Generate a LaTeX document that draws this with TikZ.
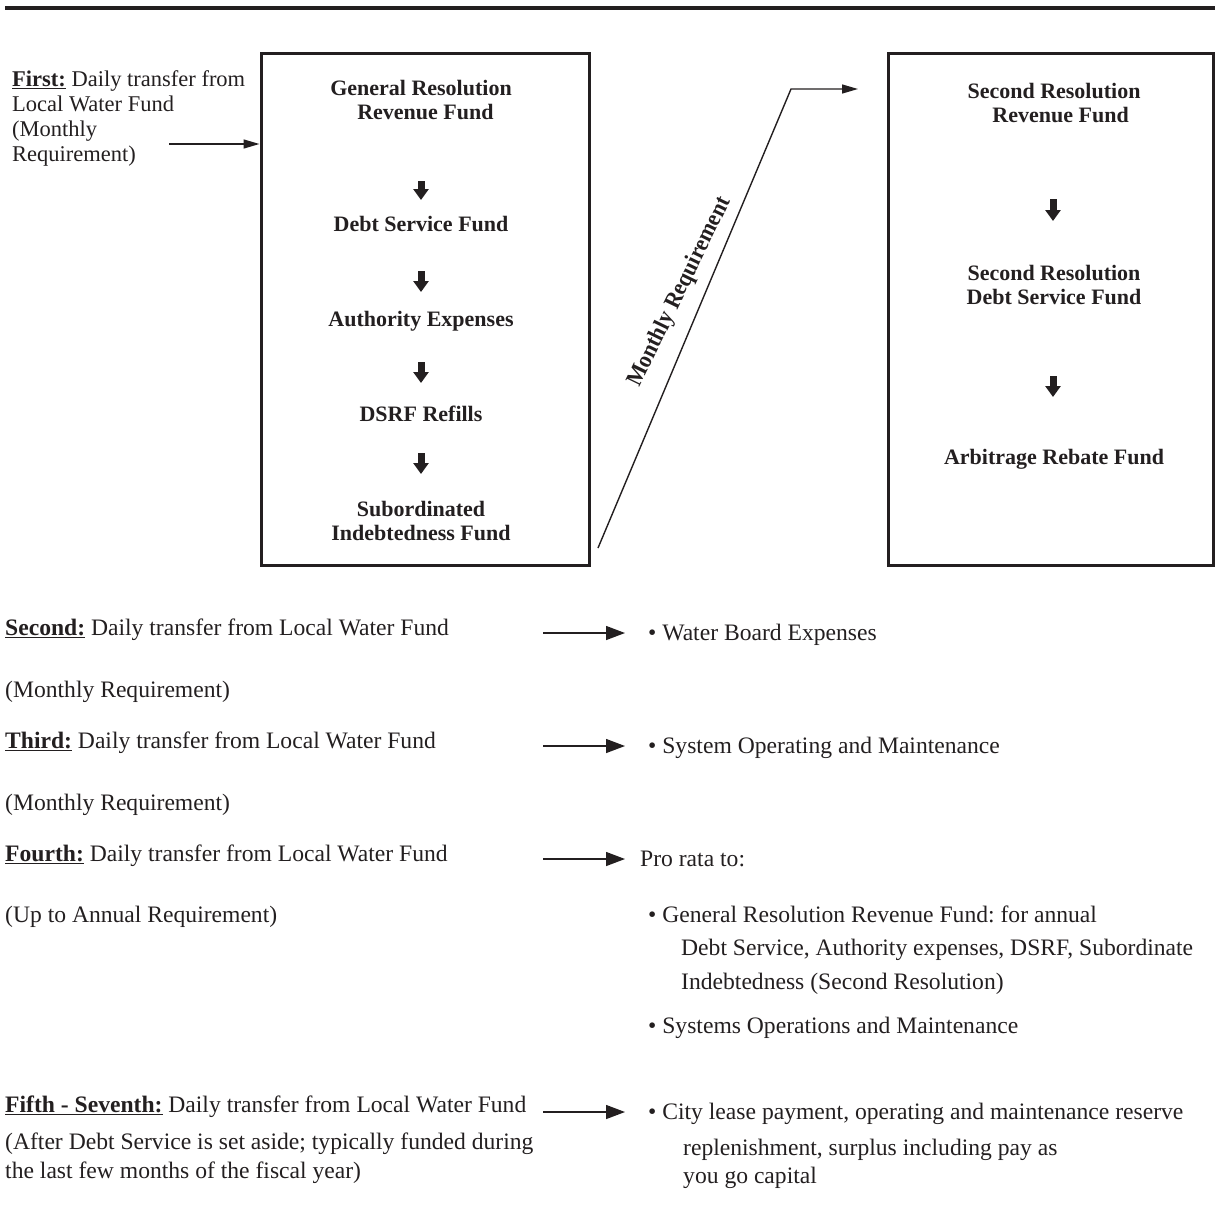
\documentclass[tikz,border=0pt]{standalone}
\usepackage{fontspec}
\setmainfont{Liberation Serif}
\usetikzlibrary{arrows.meta}
\definecolor{ink}{RGB}{35,31,32}
\tikzset{
  txt/.style={inner sep=0pt, anchor=base west, text=ink, font=\fontsize{23.6}{25}\selectfont},
  firsttxt/.style={inner sep=0pt, anchor=north west, align=left, text=ink, font=\fontsize{22.5}{25}\selectfont},
  boxtxt/.style={inner sep=0pt, anchor=north, align=center, text=ink, font=\bfseries\fontsize{22}{24.5}\selectfont},
  fundbox/.style={draw=ink, line width=3pt, inner sep=0pt},
  downarr/.style={draw=ink, line width=7pt, -{Triangle[length=11pt,width=15pt]}},
  thinarr/.style={draw=ink, line width=1.4pt, -{Triangle[length=16pt,width=9pt]}},
  flowarr/.style={draw=ink, line width=1.4pt, -{Triangle[length=19pt,width=14pt]}},
}
\begin{document}
\frenchspacing
\begin{tikzpicture}[x=1pt,y=-1pt]
\useasboundingbox (0,0) rectangle (1215,1205);
% top rule
\coordinate (ruleL) at (5,8);
\coordinate (ruleR) at (1215,8);
\draw[ink, line width=3.5pt] (ruleL) -- (ruleR);

% boxes
\node[fundbox, minimum width=328pt, minimum height=512pt] (lbox) at (425,309) {};
\node[fundbox, minimum width=325pt, minimum height=512pt] (rbox) at (1050.5,309) {};

% first
\node[firsttxt] (first) at (12,70) {\underline{\textbf{First:}} Daily transfer from\\Local Water Fund\\(Monthly\\Requirement)};
\coordinate (fa0) at (169,144);
\draw[thinarr] (fa0) -- (lbox.west |- fa0);

% left box contents
\node[boxtxt] (grrf) at (421,80) {General Resolution\\\hspace*{0.4em}Revenue Fund};
\node[boxtxt] (dsf) at (421,216) {Debt Service Fund};
\node[boxtxt] (ae) at (421,311) {Authority Expenses};
\node[boxtxt] (dsrf) at (421,406) {DSRF Refills};
\node[boxtxt] (sif) at (421,501) {Subordinated\\Indebtedness Fund};
\coordinate (a1t) at (421,181); \coordinate (a1b) at (421,200);
\coordinate (a2t) at (421,271); \coordinate (a2b) at (421,292);
\coordinate (a3t) at (421,362); \coordinate (a3b) at (421,383);
\coordinate (a4t) at (421,453); \coordinate (a4b) at (421,474);
\draw[downarr] (a1t) -- (a1b);
\draw[downarr] (a2t) -- (a2b);
\draw[downarr] (a3t) -- (a3b);
\draw[downarr] (a4t) -- (a4b);

% right box contents
\node[boxtxt] (srrf) at (1054,83) {Second Resolution\\\hspace*{0.6em}Revenue Fund};
\node[boxtxt] (srdsf) at (1054,265) {Second Resolution\\Debt Service Fund};
\node[boxtxt] (arf) at (1054,449) {Arbitrage Rebate Fund};
\coordinate (b1t) at (1053,199); \coordinate (b1b) at (1053,221);
\coordinate (b2t) at (1053,376); \coordinate (b2b) at (1053,397);
\draw[downarr] (b1t) -- (b1b);
\draw[downarr] (b2t) -- (b2b);

% diagonal monthly requirement connector
\coordinate (d0) at (598,548);
\coordinate (d1) at (791,89);
\coordinate (d2) at (858,89);
\draw[thinarr] (d0) -- (d1) -- (d2);
\node[inner sep=0pt, text=ink, font=\bfseries\fontsize{23.5}{24}\selectfont, rotate=64, xscale=0.93] (mreq) at (680,292) {Monthly Requirement};

% lower left
\node[txt] (l2a) at (5,635) {\underline{\textbf{Second:}} Daily transfer from Local Water Fund};
\node[txt] (l2b) at (5,697) {(Monthly Requirement)};
\node[txt] (l3a) at (5,748) {\underline{\textbf{Third:}} Daily transfer from Local Water Fund};
\node[txt] (l3b) at (5,810) {(Monthly Requirement)};
\node[txt] (l4a) at (5,861) {\underline{\textbf{Fourth:}} Daily transfer from Local Water Fund};
\node[txt] (l4b) at (5,922) {(Up to Annual Requirement)};
\node[txt] (l5a) at (5,1112) {\underline{\textbf{Fifth - Seventh:}} Daily transfer from Local Water Fund};
\node[txt] (l5b) at (5,1149) {(After Debt Service is set aside; typically funded during};
\node[txt] (l5c) at (5,1178) {the last few months of the fiscal year)};

% lower right
\node[txt] (r2) at (648,640) {\textbullet\ Water Board Expenses};
\node[txt] (r3) at (648,753) {\textbullet\ System Operating and Maintenance};
\node[txt] (r4) at (640,866) {Pro rata to:};
\node[txt] (r4a) at (648,922) {\textbullet\ General Resolution Revenue Fund: for annual};
\node[txt] (r4b) at (681,955) {Debt Service, Authority expenses, DSRF, Subordinate};
\node[txt] (r4c) at (681,989) {Indebtedness (Second Resolution)};
\node[txt] (r4d) at (648,1033) {\textbullet\ Systems Operations and Maintenance};
\node[txt] (r5a) at (648,1119) {\textbullet\ City lease payment, operating and maintenance reserve};
\node[txt] (r5b) at (683,1155) {replenishment, surplus including pay as};
\node[txt] (r5c) at (683,1183) {you go capital};

% lower arrows
\coordinate (e2s) at (543,633); \coordinate (e2e) at (625,633);
\coordinate (e3s) at (543,746); \coordinate (e3e) at (625,746);
\coordinate (e4s) at (543,859); \coordinate (e4e) at (625,859);
\coordinate (e5s) at (543,1112); \coordinate (e5e) at (625,1112);
\draw[flowarr] (e2s) -- (e2e);
\draw[flowarr] (e3s) -- (e3e);
\draw[flowarr] (e4s) -- (e4e);
\draw[flowarr] (e5s) -- (e5e);
\end{tikzpicture}
\end{document}
